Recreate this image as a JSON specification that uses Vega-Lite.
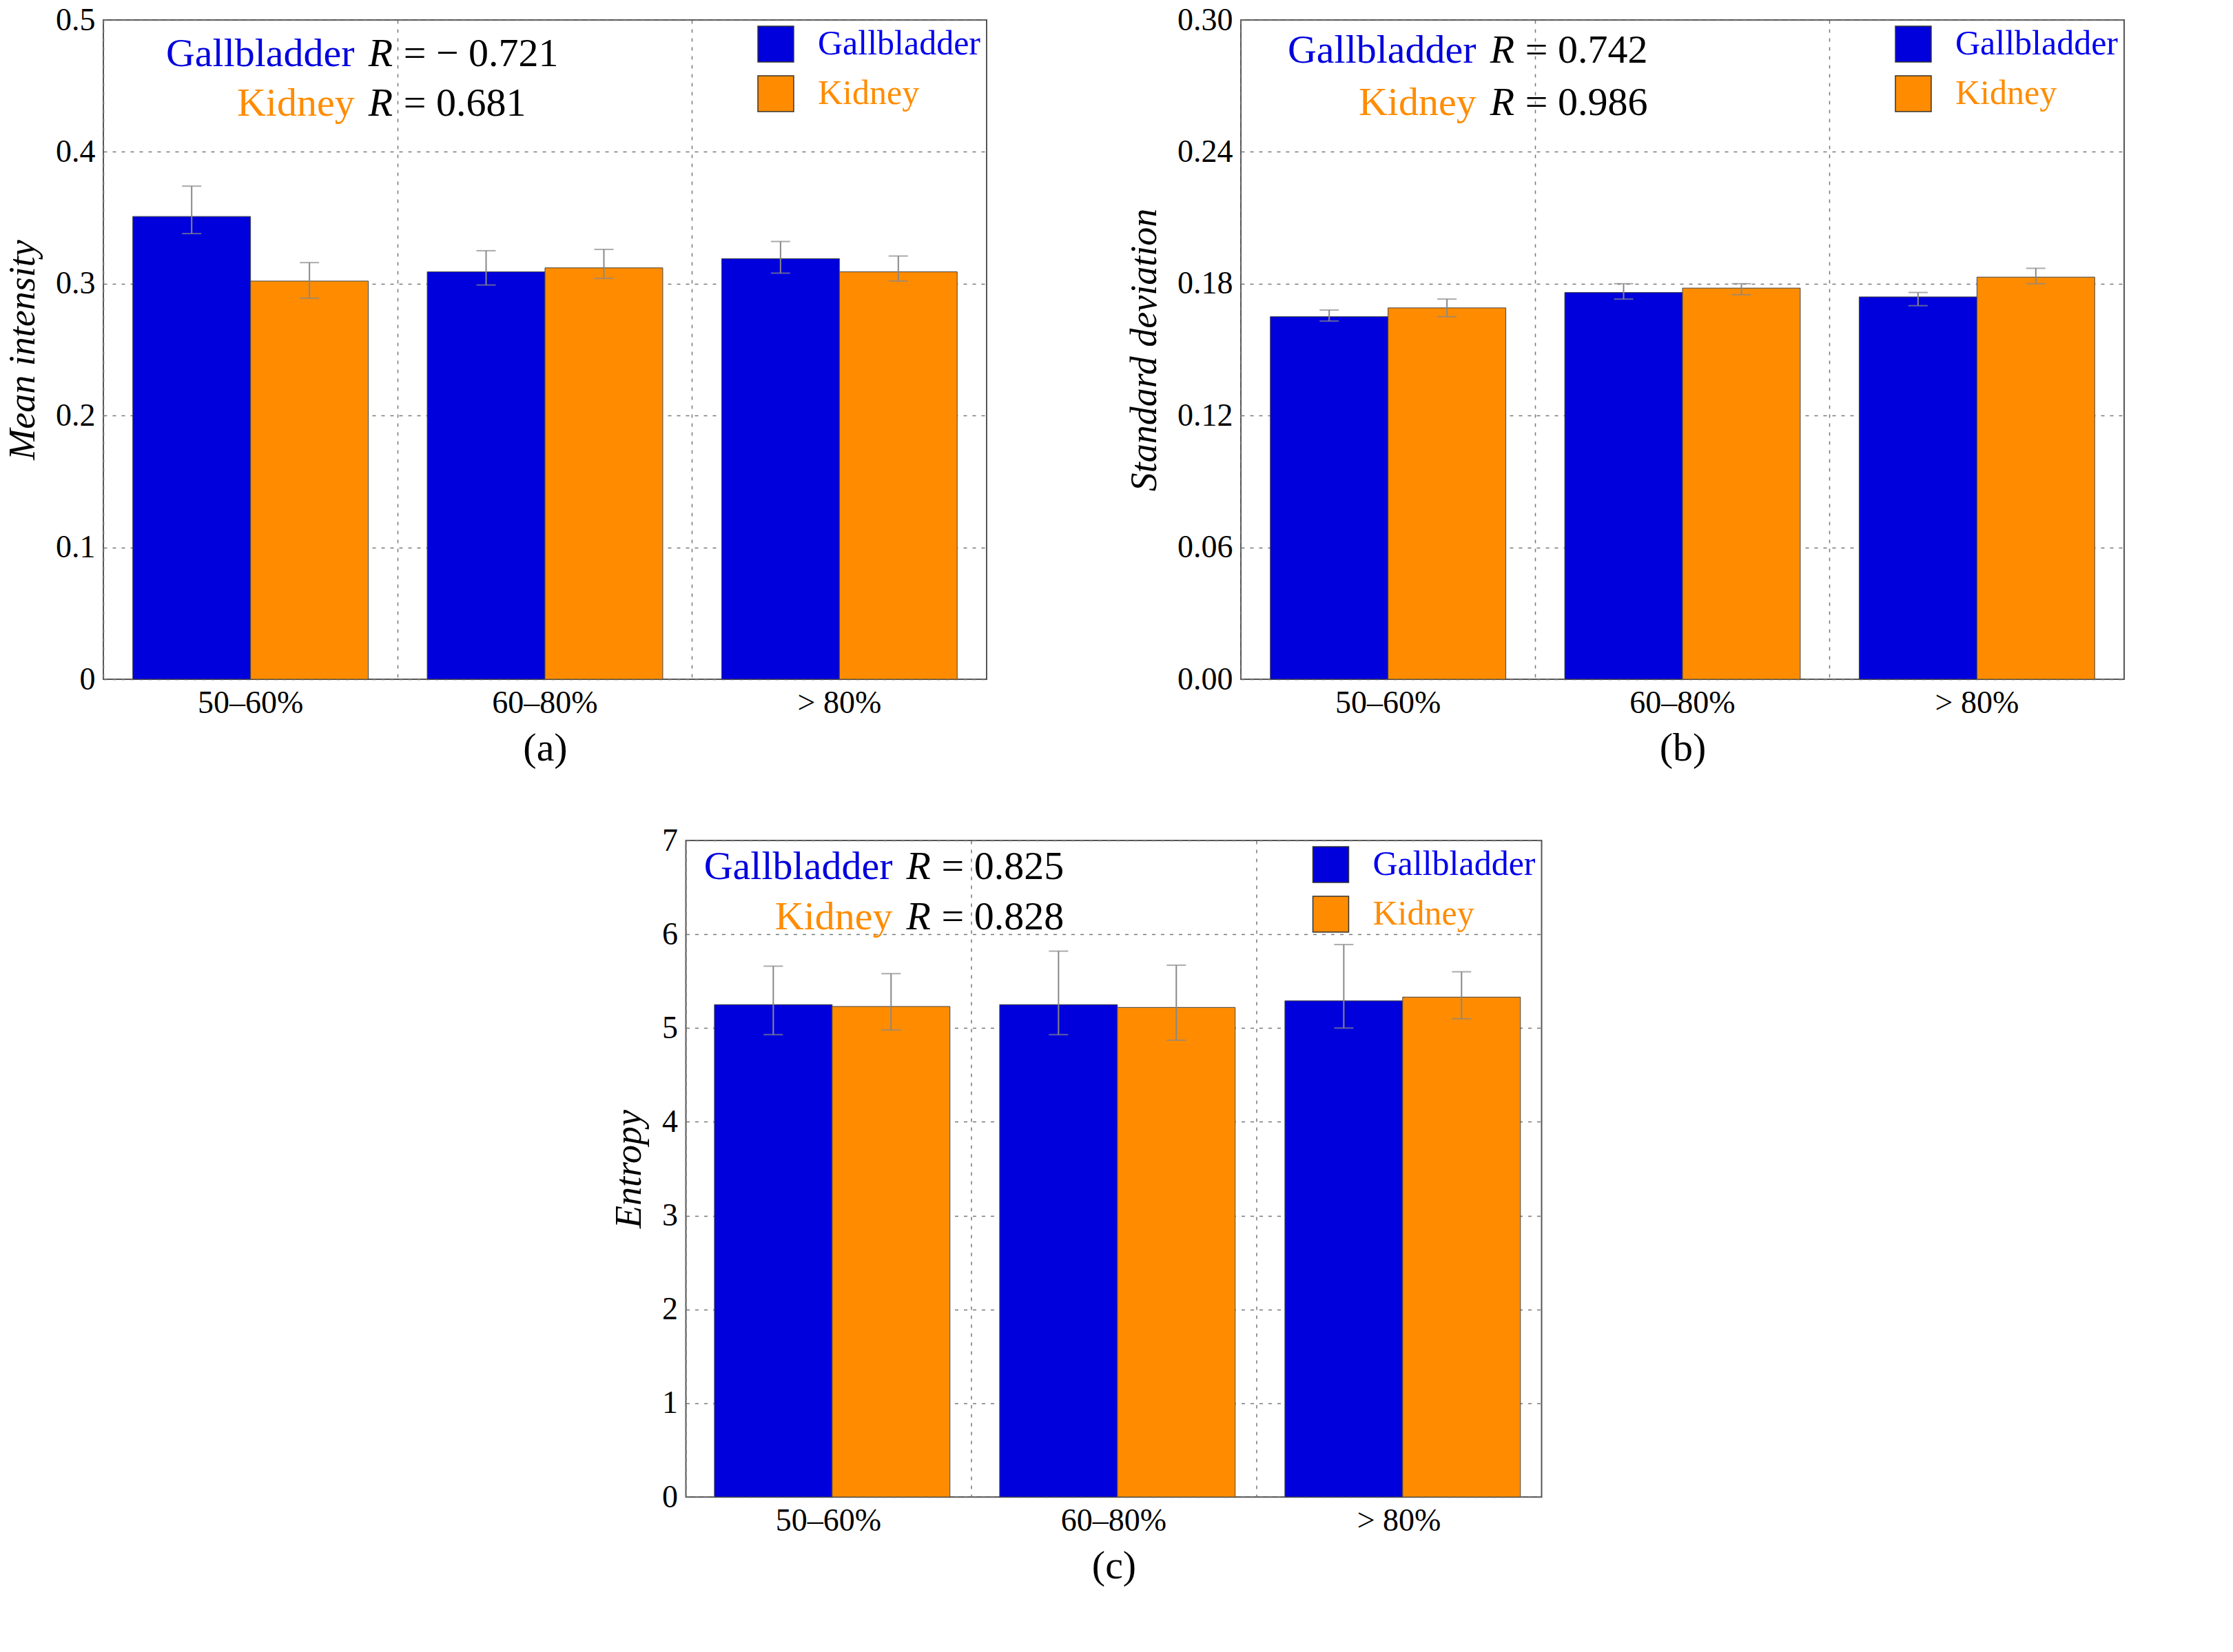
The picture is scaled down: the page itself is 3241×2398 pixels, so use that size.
{
"$schema":"https://vega.github.io/schema/vega-lite/v6.json",
"background":"white","padding":5,
"config":{"font":"Liberation Serif","view":{"stroke":"#555","strokeWidth":2},
"axis":{"labelFont":"Liberation Serif","titleFont":"Liberation Serif","labelFontSize":46,"titleFontSize":54,"labelColor":"black","titleColor":"black","titleFontWeight":"normal","domain":false,"ticks":false,"gridColor":"#777","gridDash":[5,8],"gridWidth":1.5,"labelPadding":12},
"legend":{"labelFont":"Liberation Serif","labelFontSize":50,"labelLimit":0,"symbolType":"square","symbolSize":2700,"symbolStrokeColor":"#333","symbolStrokeWidth":1.5,"rowPadding":14,"labelOffset":34,"title":null}},
"datasets":{
"a":[{"g":"50–60%","organ":"Gallbladder","v":0.351,"lo":0.338,"hi":0.374},{"g":"50–60%","organ":"Kidney","v":0.302,"lo":0.289,"hi":0.316},{"g":"60–80%","organ":"Gallbladder","v":0.309,"lo":0.299,"hi":0.325},{"g":"60–80%","organ":"Kidney","v":0.312,"lo":0.304,"hi":0.326},{"g":"> 80%","organ":"Gallbladder","v":0.319,"lo":0.308,"hi":0.332},{"g":"> 80%","organ":"Kidney","v":0.309,"lo":0.302,"hi":0.321}],
"b":[{"g":"50–60%","organ":"Gallbladder","v":0.165,"lo":0.163,"hi":0.168},{"g":"50–60%","organ":"Kidney","v":0.169,"lo":0.165,"hi":0.173},{"g":"60–80%","organ":"Gallbladder","v":0.176,"lo":0.173,"hi":0.18},{"g":"60–80%","organ":"Kidney","v":0.178,"lo":0.175,"hi":0.18},{"g":"> 80%","organ":"Gallbladder","v":0.174,"lo":0.17,"hi":0.176},{"g":"> 80%","organ":"Kidney","v":0.183,"lo":0.18,"hi":0.187}],
"c":[{"g":"50–60%","organ":"Gallbladder","v":5.25,"lo":4.93,"hi":5.66},{"g":"50–60%","organ":"Kidney","v":5.23,"lo":4.98,"hi":5.58},{"g":"60–80%","organ":"Gallbladder","v":5.25,"lo":4.93,"hi":5.82},{"g":"60–80%","organ":"Kidney","v":5.22,"lo":4.87,"hi":5.67},{"g":"> 80%","organ":"Gallbladder","v":5.29,"lo":5.0,"hi":5.89},{"g":"> 80%","organ":"Kidney","v":5.33,"lo":5.1,"hi":5.6}],
"ta":[{"g":"50–60%","organ":"Gallbladder","y":0.474,"val":"= − 0.721"},{"g":"50–60%","organ":"Kidney","y":0.436,"val":"= 0.681"}],
"tb":[{"g":"50–60%","organ":"Gallbladder","y":0.286,"val":"= 0.742"},{"g":"50–60%","organ":"Kidney","y":0.262,"val":"= 0.986"}],
"tc":[{"g":"50–60%","organ":"Gallbladder","y":6.71,"val":"= 0.825"},{"g":"50–60%","organ":"Kidney","y":6.18,"val":"= 0.828"}]
},
"vconcat":[
{"hconcat":[
{"width":1282,"height":957,
"encoding":{"x":{"field":"g","type":"nominal","sort":null,"scale":{"paddingInner":0.2,"paddingOuter":0.1},"axis":{"title":"(a)","labelAngle":0,"grid":true,"bandPosition":-0.125,"titleFontSize":58,"titlePadding":14}}},
"layer":[
{"data":{"name":"a"},"mark":{"type":"bar","stroke":"#444","strokeWidth":1},"encoding":{"xOffset":{"field":"organ","sort":null},"y":{"field":"v","type":"quantitative","title":"Mean intensity","scale":{"domain":[0,0.5]},"axis":{"title":"Mean intensity","titleFontStyle":"italic","values":[0,0.1,0.2,0.3,0.4,0.5],"format":"~g","grid":true,"titlePadding":20}},"color":{"field":"organ","type":"nominal","scale":{"domain":["Gallbladder","Kidney"],"range":["#0000dd","#ff8c00"]},"legend":{"orient":"top-right","offset":8,"encode":{"labels":{"update":{"fill":{"signal":"datum.value==='Gallbladder'?'#0000ee':'#ff8c00'"}}}}}}}},
{"data":{"name":"a"},"mark":{"type":"errorbar","ticks":{"size":28},"color":"#888","thickness":2},"encoding":{"xOffset":{"field":"organ","sort":null},"y":{"field":"lo","type":"quantitative","title":"Mean intensity"},"y2":{"field":"hi"}}},
{"data":{"name":"ta"},"mark":{"type":"text","align":"right","baseline":"middle","fontSize":58,"dx":151},"encoding":{"y":{"field":"y","type":"quantitative","title":"Mean intensity"},"text":{"field":"organ"},"color":{"field":"organ","legend":null}}},
{"data":{"name":"ta"},"mark":{"type":"text","align":"left","baseline":"middle","fontSize":58,"fontStyle":"italic","dx":171,"color":"black"},"encoding":{"y":{"field":"y","type":"quantitative","title":"Mean intensity"},"text":{"value":"R"}}},
{"data":{"name":"ta"},"mark":{"type":"text","align":"left","baseline":"middle","fontSize":58,"dx":222,"color":"black"},"encoding":{"y":{"field":"y","type":"quantitative","title":"Mean intensity"},"text":{"field":"val"}}}
]},
{"width":1282,"height":957,
"encoding":{"x":{"field":"g","type":"nominal","sort":null,"scale":{"paddingInner":0.2,"paddingOuter":0.1},"axis":{"title":"(b)","labelAngle":0,"grid":true,"bandPosition":-0.125,"titleFontSize":58,"titlePadding":14}}},
"layer":[
{"data":{"name":"b"},"mark":{"type":"bar","stroke":"#444","strokeWidth":1},"encoding":{"xOffset":{"field":"organ","sort":null},"y":{"field":"v","type":"quantitative","title":"Standard deviation","scale":{"domain":[0,0.3]},"axis":{"title":"Standard deviation","titleFontStyle":"italic","values":[0,0.06,0.12,0.18,0.24,0.3],"format":".2f","grid":true,"titlePadding":20}},"color":{"field":"organ","type":"nominal","scale":{"domain":["Gallbladder","Kidney"],"range":["#0000dd","#ff8c00"]},"legend":{"orient":"top-right","offset":8,"encode":{"labels":{"update":{"fill":{"signal":"datum.value==='Gallbladder'?'#0000ee':'#ff8c00'"}}}}}}}},
{"data":{"name":"b"},"mark":{"type":"errorbar","ticks":{"size":28},"color":"#888","thickness":2},"encoding":{"xOffset":{"field":"organ","sort":null},"y":{"field":"lo","type":"quantitative","title":"Standard deviation"},"y2":{"field":"hi"}}},
{"data":{"name":"tb"},"mark":{"type":"text","align":"right","baseline":"middle","fontSize":58,"dx":128},"encoding":{"y":{"field":"y","type":"quantitative","title":"Standard deviation"},"text":{"field":"organ"},"color":{"field":"organ","legend":null}}},
{"data":{"name":"tb"},"mark":{"type":"text","align":"left","baseline":"middle","fontSize":58,"fontStyle":"italic","dx":148,"color":"black"},"encoding":{"y":{"field":"y","type":"quantitative","title":"Standard deviation"},"text":{"value":"R"}}},
{"data":{"name":"tb"},"mark":{"type":"text","align":"left","baseline":"middle","fontSize":58,"dx":199,"color":"black"},"encoding":{"y":{"field":"y","type":"quantitative","title":"Standard deviation"},"text":{"field":"val"}}}
]}
],"spacing":200,"resolve":{"scale":{"color":"independent"},"legend":{"color":"independent"}}},
{"width":1242,"height":953,
"encoding":{"x":{"field":"g","type":"nominal","sort":null,"scale":{"paddingInner":0.2,"paddingOuter":0.1},"axis":{"title":"(c)","labelAngle":0,"grid":true,"bandPosition":-0.125,"titleFontSize":58,"titlePadding":14}}},
"layer":[
{"data":{"name":"c"},"mark":{"type":"bar","stroke":"#444","strokeWidth":1},"encoding":{"xOffset":{"field":"organ","sort":null},"y":{"field":"v","type":"quantitative","title":"Entropy","scale":{"domain":[0,7]},"axis":{"title":"Entropy","titleFontStyle":"italic","values":[0,1,2,3,4,5,6,7],"format":"d","grid":true,"titlePadding":20}},"color":{"field":"organ","type":"nominal","scale":{"domain":["Gallbladder","Kidney"],"range":["#0000dd","#ff8c00"]},"legend":{"orient":"top-right","offset":8,"encode":{"labels":{"update":{"fill":{"signal":"datum.value==='Gallbladder'?'#0000ee':'#ff8c00'"}}}}}}}},
{"data":{"name":"c"},"mark":{"type":"errorbar","ticks":{"size":28},"color":"#888","thickness":2},"encoding":{"xOffset":{"field":"organ","sort":null},"y":{"field":"lo","type":"quantitative","title":"Entropy"},"y2":{"field":"hi"}}},
{"data":{"name":"tc"},"mark":{"type":"text","align":"right","baseline":"middle","fontSize":58,"dx":93},"encoding":{"y":{"field":"y","type":"quantitative","title":"Entropy"},"text":{"field":"organ"},"color":{"field":"organ","legend":null}}},
{"data":{"name":"tc"},"mark":{"type":"text","align":"left","baseline":"middle","fontSize":58,"fontStyle":"italic","dx":113,"color":"black"},"encoding":{"y":{"field":"y","type":"quantitative","title":"Entropy"},"text":{"value":"R"}}},
{"data":{"name":"tc"},"mark":{"type":"text","align":"left","baseline":"middle","fontSize":58,"dx":164,"color":"black"},"encoding":{"y":{"field":"y","type":"quantitative","title":"Entropy"},"text":{"field":"val"}}}
]}
],"center":true,"spacing":80,
"resolve":{"scale":{"color":"independent"},"legend":{"color":"independent"}}
}
